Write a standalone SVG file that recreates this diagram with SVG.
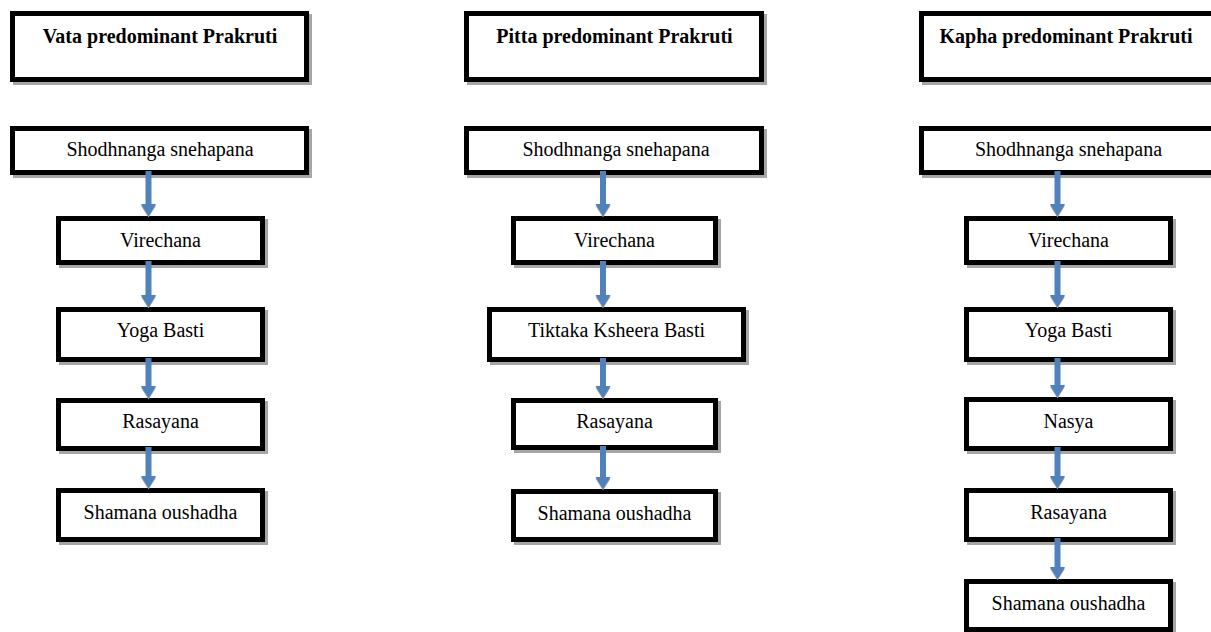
<svg xmlns="http://www.w3.org/2000/svg" width="1211" height="632" viewBox="0 0 1211 632">
<style>
.sh{fill:none;stroke:#a6a6a6;stroke-width:5}
.bx{fill:#fff;stroke:#000;stroke-width:5}
.t{font-family:"Liberation Serif","Times New Roman",serif;font-size:20px;fill:#000;text-anchor:middle}
.h{font-weight:bold}
.ar{fill:#4f81bd}
.ah{fill:#9a9a9a}
</style>
<defs>
<g id="arrowhead"><polygon class="ah" points="-7.5,-10.5 7.5,-10.5 0,1.5"/><polygon class="ar" points="-7.5,-12 7.5,-12 0,0"/></g>
</defs>
<rect width="1211" height="632" fill="#fff"/>

<g id="vata-header"><rect class="sh" x="15.5" y="16.5" width="294" height="66"/><rect class="bx" x="12.5" y="13.5" width="294" height="66"/><text class="t h" x="160" y="43">Vata predominant Prakruti</text></g>
<g id="vata-1"><rect class="sh" x="15.5" y="131.5" width="294" height="44"/><rect class="bx" x="12.5" y="128.5" width="294" height="44"/><text class="t" x="160" y="156">Shodhnanga snehapana</text></g>
<g id="vata-2"><rect class="sh" x="61.5" y="221.5" width="204" height="44"/><rect class="bx" x="58.5" y="218.5" width="204" height="44"/><text class="t" x="160.5" y="246.5">Virechana</text></g>
<g id="vata-3"><rect class="sh" x="61.5" y="312.5" width="204" height="50"/><rect class="bx" x="58.5" y="309.5" width="204" height="50"/><text class="t" x="160.5" y="337">Yoga Basti</text></g>
<g id="vata-4"><rect class="sh" x="61.5" y="403.5" width="204" height="48"/><rect class="bx" x="58.5" y="400.5" width="204" height="48"/><text class="t" x="160.5" y="428">Rasayana</text></g>
<g id="vata-5"><rect class="sh" x="61.5" y="493.5" width="204" height="49"/><rect class="bx" x="58.5" y="490.5" width="204" height="49"/><text class="t" x="160.5" y="519">Shamana oushadha</text></g>

<g id="pitta-header"><rect class="sh" x="469.5" y="16.5" width="295" height="66"/><rect class="bx" x="466.5" y="13.5" width="295" height="66"/><text class="t h" x="614.5" y="43">Pitta predominant Prakruti</text></g>
<g id="pitta-1"><rect class="sh" x="469.5" y="131.5" width="295" height="44"/><rect class="bx" x="466.5" y="128.5" width="295" height="44"/><text class="t" x="616" y="156">Shodhnanga snehapana</text></g>
<g id="pitta-2"><rect class="sh" x="516.5" y="221.5" width="202" height="44"/><rect class="bx" x="513.5" y="218.5" width="202" height="44"/><text class="t" x="614.5" y="246.5">Virechana</text></g>
<g id="pitta-3"><rect class="sh" x="492.5" y="312.5" width="254" height="50"/><rect class="bx" x="489.5" y="309.5" width="254" height="50"/><text class="t" x="616.5" y="337">Tiktaka Ksheera Basti</text></g>
<g id="pitta-4"><rect class="sh" x="516.5" y="403.5" width="202" height="47"/><rect class="bx" x="513.5" y="400.5" width="202" height="47"/><text class="t" x="614.5" y="428">Rasayana</text></g>
<g id="pitta-5"><rect class="sh" x="516.5" y="494.5" width="202" height="48"/><rect class="bx" x="513.5" y="491.5" width="202" height="48"/><text class="t" x="614.5" y="519.5">Shamana oushadha</text></g>

<g id="kapha-header"><rect class="sh" x="924.5" y="16.5" width="294" height="66"/><rect class="bx" x="921.5" y="13.5" width="294" height="66"/><text class="t h" x="1066" y="43">Kapha predominant Prakruti</text></g>
<g id="kapha-1"><rect class="sh" x="924.5" y="131.5" width="294" height="44"/><rect class="bx" x="921.5" y="128.5" width="294" height="44"/><text class="t" x="1068.5" y="156">Shodhnanga snehapana</text></g>
<g id="kapha-2"><rect class="sh" x="969.5" y="221.5" width="204" height="44"/><rect class="bx" x="966.5" y="218.5" width="204" height="44"/><text class="t" x="1068.5" y="246.5">Virechana</text></g>
<g id="kapha-3"><rect class="sh" x="969.5" y="312.5" width="204" height="50"/><rect class="bx" x="966.5" y="309.5" width="204" height="50"/><text class="t" x="1068.5" y="337">Yoga Basti</text></g>
<g id="kapha-4"><rect class="sh" x="969.5" y="402.5" width="204" height="49"/><rect class="bx" x="966.5" y="399.5" width="204" height="49"/><text class="t" x="1068.5" y="428">Nasya</text></g>
<g id="kapha-5"><rect class="sh" x="969.5" y="493.5" width="204" height="49"/><rect class="bx" x="966.5" y="490.5" width="204" height="49"/><text class="t" x="1068.5" y="518.5">Rasayana</text></g>
<g id="kapha-6"><rect class="sh" x="969.5" y="584.5" width="204" height="48"/><rect class="bx" x="966.5" y="581.5" width="204" height="48"/><text class="t" x="1068.5" y="610">Shamana oushadha</text></g>

<g id="connectors">
<rect class="ar" x="145.5" y="171" width="6" height="34"/><use href="#arrowhead" x="148.5" y="216"/>
<rect class="ar" x="145.5" y="261" width="6" height="35"/><use href="#arrowhead" x="148.5" y="307"/>
<rect class="ar" x="145.5" y="358" width="6" height="29"/><use href="#arrowhead" x="148.5" y="398"/>
<rect class="ar" x="145.5" y="447" width="6" height="30"/><use href="#arrowhead" x="148.5" y="488"/>

<rect class="ar" x="600" y="171" width="6" height="34"/><use href="#arrowhead" x="603" y="216"/>
<rect class="ar" x="600" y="261" width="6" height="35"/><use href="#arrowhead" x="603" y="307"/>
<rect class="ar" x="600" y="358" width="6" height="29"/><use href="#arrowhead" x="603" y="398"/>
<rect class="ar" x="600" y="446" width="6" height="32"/><use href="#arrowhead" x="603" y="489"/>

<rect class="ar" x="1054.5" y="171" width="6" height="34"/><use href="#arrowhead" x="1057.5" y="216"/>
<rect class="ar" x="1054.5" y="261" width="6" height="35"/><use href="#arrowhead" x="1057.5" y="307"/>
<rect class="ar" x="1054.5" y="358" width="6" height="28"/><use href="#arrowhead" x="1057.5" y="397"/>
<rect class="ar" x="1054.5" y="447" width="6" height="30"/><use href="#arrowhead" x="1057.5" y="488"/>
<rect class="ar" x="1054.5" y="538" width="6" height="30"/><use href="#arrowhead" x="1057.5" y="579"/>
</g>
</svg>
